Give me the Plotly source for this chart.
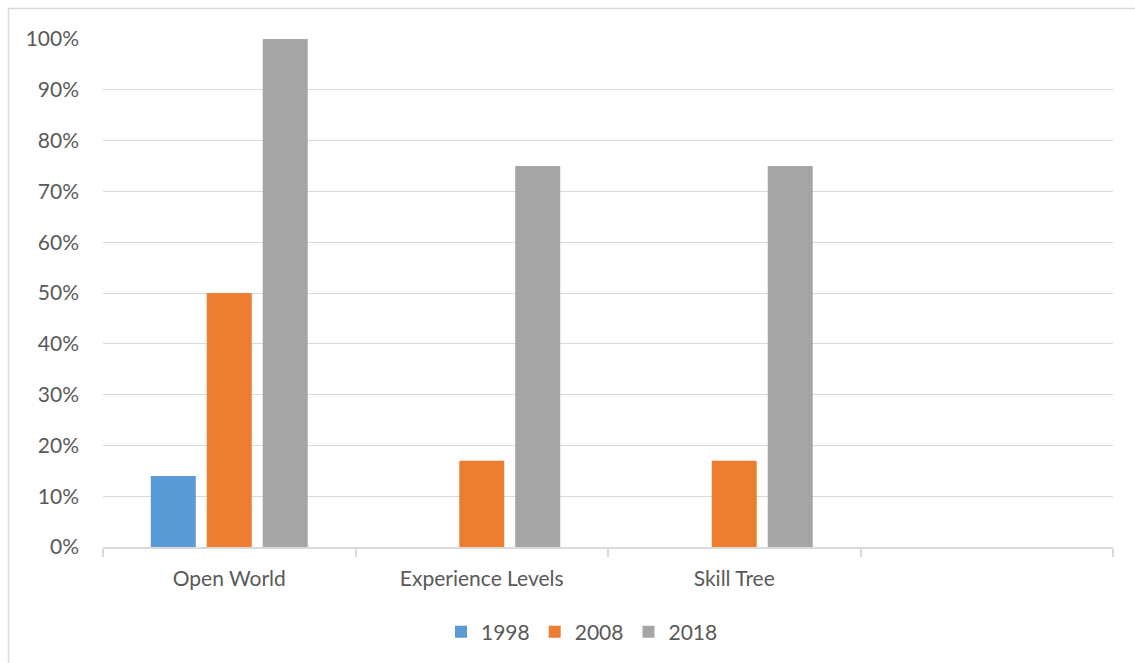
import plotly.graph_objects as go

categories = ["Open World", "Experience Levels", "Skill Tree", " "]
series_names = ["1998", "2008", "2018"]
values_1998 = [0.14, None, None, None]
values_2008 = [0.50, 0.17, 0.17, None]
values_2018 = [1.00, 0.75, 0.75, None]
colors = ["#5b9bd5", "#ed7d31", "#a5a5a5"]
y_ticks = [0, 0.1, 0.2, 0.3, 0.4, 0.5, 0.6, 0.7, 0.8, 0.9, 1.0]

FONT = "Lato, 'Open Sans', sans-serif"
FS = 21

fig = go.Figure()
for name, vals, col in zip(series_names, [values_1998, values_2008, values_2018], colors):
    fig.add_trace(go.Bar(
        x=categories, y=vals, name=name,
        marker=dict(color=col, line=dict(width=0)),
    ))

W, H = 1135, 663
L, R, T, B = 103, 22, 39, 115
pw, ph = W - L - R, H - T - B

def px_x(x):
    return (x - L) / pw

def px_y(y):
    return (H - B - y) / ph

fig.update_layout(
    width=W, height=H,
    margin=dict(l=L, r=R, t=T, b=B, pad=0),
    paper_bgcolor="white", plot_bgcolor="white",
    barmode="group", bargap=0.335, bargroupgap=0.196,
    font=dict(family=FONT, size=FS, color="#595959"),
    showlegend=True,
    legend=dict(orientation="h", x=px_x(582), xanchor="center", y=px_y(632), yanchor="middle",
                font=dict(size=FS, color="#595959"), itemwidth=30, traceorder="normal"),
    xaxis=dict(
        type="category", categoryorder="array", categoryarray=categories,
        range=[-0.5, 3.5], showgrid=False, showline=True, linecolor="#d9d9d9", linewidth=1.5,
        ticks="outside", tickson="boundaries", ticklen=8, tickcolor="#d9d9d9", tickwidth=1.5,
        ticklabelstandoff=12,
        tickfont=dict(size=FS, color="#595959", family=FONT), fixedrange=True,
    ),
    yaxis=dict(
        range=[0, 1], tickvals=y_ticks, tickformat=".0%", showgrid=True, gridcolor="#d9d9d9",
        gridwidth=1.2, zeroline=False, showline=False, ticks="", ticklen=0,
        ticklabelstandoff=23,
        tickfont=dict(size=FS, color="#595959", family=FONT), fixedrange=True,
    ),
    shapes=[dict(type="rect", xref="paper", yref="paper",
                 x0=px_x(8.5), x1=px_x(1145), y0=px_y(675), y1=px_y(8.5),
                 line=dict(color="#d9d9d9", width=1.5), fillcolor="rgba(0,0,0,0)", layer="below")],
)

fig.write_html("out.html")
